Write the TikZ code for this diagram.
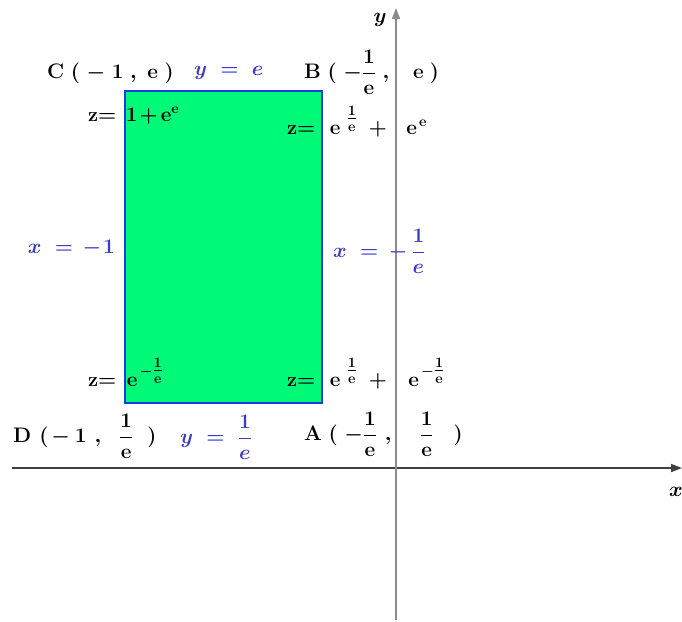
\documentclass[tikz,border=0pt]{standalone}
\usepackage{amsmath}
\usepackage{bm}
\usetikzlibrary{arrows.meta}
\definecolor{fillg}{RGB}{0,250,120}
\definecolor{edgeb}{RGB}{25,60,230}
\definecolor{lblue}{RGB}{60,60,200}
\tikzset{
  pt/.style={font=\fontsize{21}{24}\selectfont\bfseries\boldmath, inner sep=0pt},
  zl/.style={font=\fontsize{20}{24}\selectfont\bfseries\boldmath, inner sep=0pt},
  eq/.style={font=\fontsize{21}{24}\selectfont\bfseries\boldmath, text=lblue, inner sep=0pt},
  axis/.style={line width=1.6pt, -{Triangle[length=11pt,width=8pt]}}
}
\newcommand{\ee}{\mathrm{e}}
\newcommand{\gap}{\mspace{5mu}}
\newcommand{\hg}[1]{\hspace{#1pt}}
\newcommand{\supfr}{\genfrac{}{}{}{1}{1}{\ee}}
\begin{document}
\begin{tikzpicture}[x=1pt,y=-1pt]
\useasboundingbox (0,0) rectangle (682,621);
\fill[white] (0,0) rectangle (682,621);
% axes
\coordinate (xs) at (12,468);
\coordinate (xe) at (682,468);
\coordinate (ys) at (396,620);
\coordinate (ye) at (396,8);
\draw[axis, draw=black!75, fill=black] (xs) -- (xe);
\draw[axis, draw=black!45, fill=black] (ys) -- (ye);
\node[font=\fontsize{22}{24}\selectfont, inner sep=0pt] (ylab) at (380,20) {$\bm{y}$};
\node[font=\fontsize{22}{24}\selectfont, inner sep=0pt] (xlab) at (676,492) {$\bm{x}$};
% rectangle
\node[draw=edgeb, fill=fillg, line width=1.8pt, minimum width=197pt, minimum height=312pt, inner sep=0pt] (rect) at (223.5,247) {};
% corner points
\node[pt, anchor=west] (C) at (47,73) {C$\gap(\gap-\gap1\gap,\gap\ee\gap)$};
\node[eq, anchor=west] (yc) at (194,73) {$y\gap=\gap e$};
\node[pt, anchor=west] (B) at (304,72) {B$\gap(\gap-\dfrac{1}{\ee}\gap,\hg{20}\ee\hg{6})$};
\node[pt, anchor=west] (D) at (13,436) {D$\hg{8}(\hg{3}-\hg{5}1\hg{8},\hg{14}\dfrac{1}{\ee}\hg{14})$};
\node[eq, anchor=west] (ya) at (180,437) {$y\gap=\gap\dfrac{1}{e}$};
\node[pt, anchor=west] (A) at (304,434) {A$\gap(\gap-\dfrac{1}{\ee}\hg{8},\hg{24}\dfrac{1}{\ee}\hg{20})$};
% side equations
\node[eq, anchor=east] (xl) at (115,248) {$x\gap=\hg{3}-\hg{2}1$};
\node[eq, anchor=west] (xr) at (333,251) {$x\gap=\hg{4}-\hg{4}\dfrac{1}{e}$};
% z labels
\node[zl, anchor=base west] (z1) at (88,121) {z$=\hg{3}1\hg{2}{+}\hg{3}\ee^{\ee}$};
\node[zl, anchor=base west] (z2) at (287,134) {z$=\hg{8}\ee^{\hg{6}\supfr}\hg{6}+\hg{14}\ee^{\hg{2}\ee}$};
\node[zl, anchor=base west] (z3) at (88,386) {z$=\hg{4}\ee^{\hg{2}-\supfr}$};
\node[zl, anchor=base west] (z4) at (287,386) {z$=\hg{8}\ee^{\hg{6}\supfr}\hg{6}+\hg{16}\ee^{\hg{2}-\supfr}$};
\end{tikzpicture}
\end{document}
